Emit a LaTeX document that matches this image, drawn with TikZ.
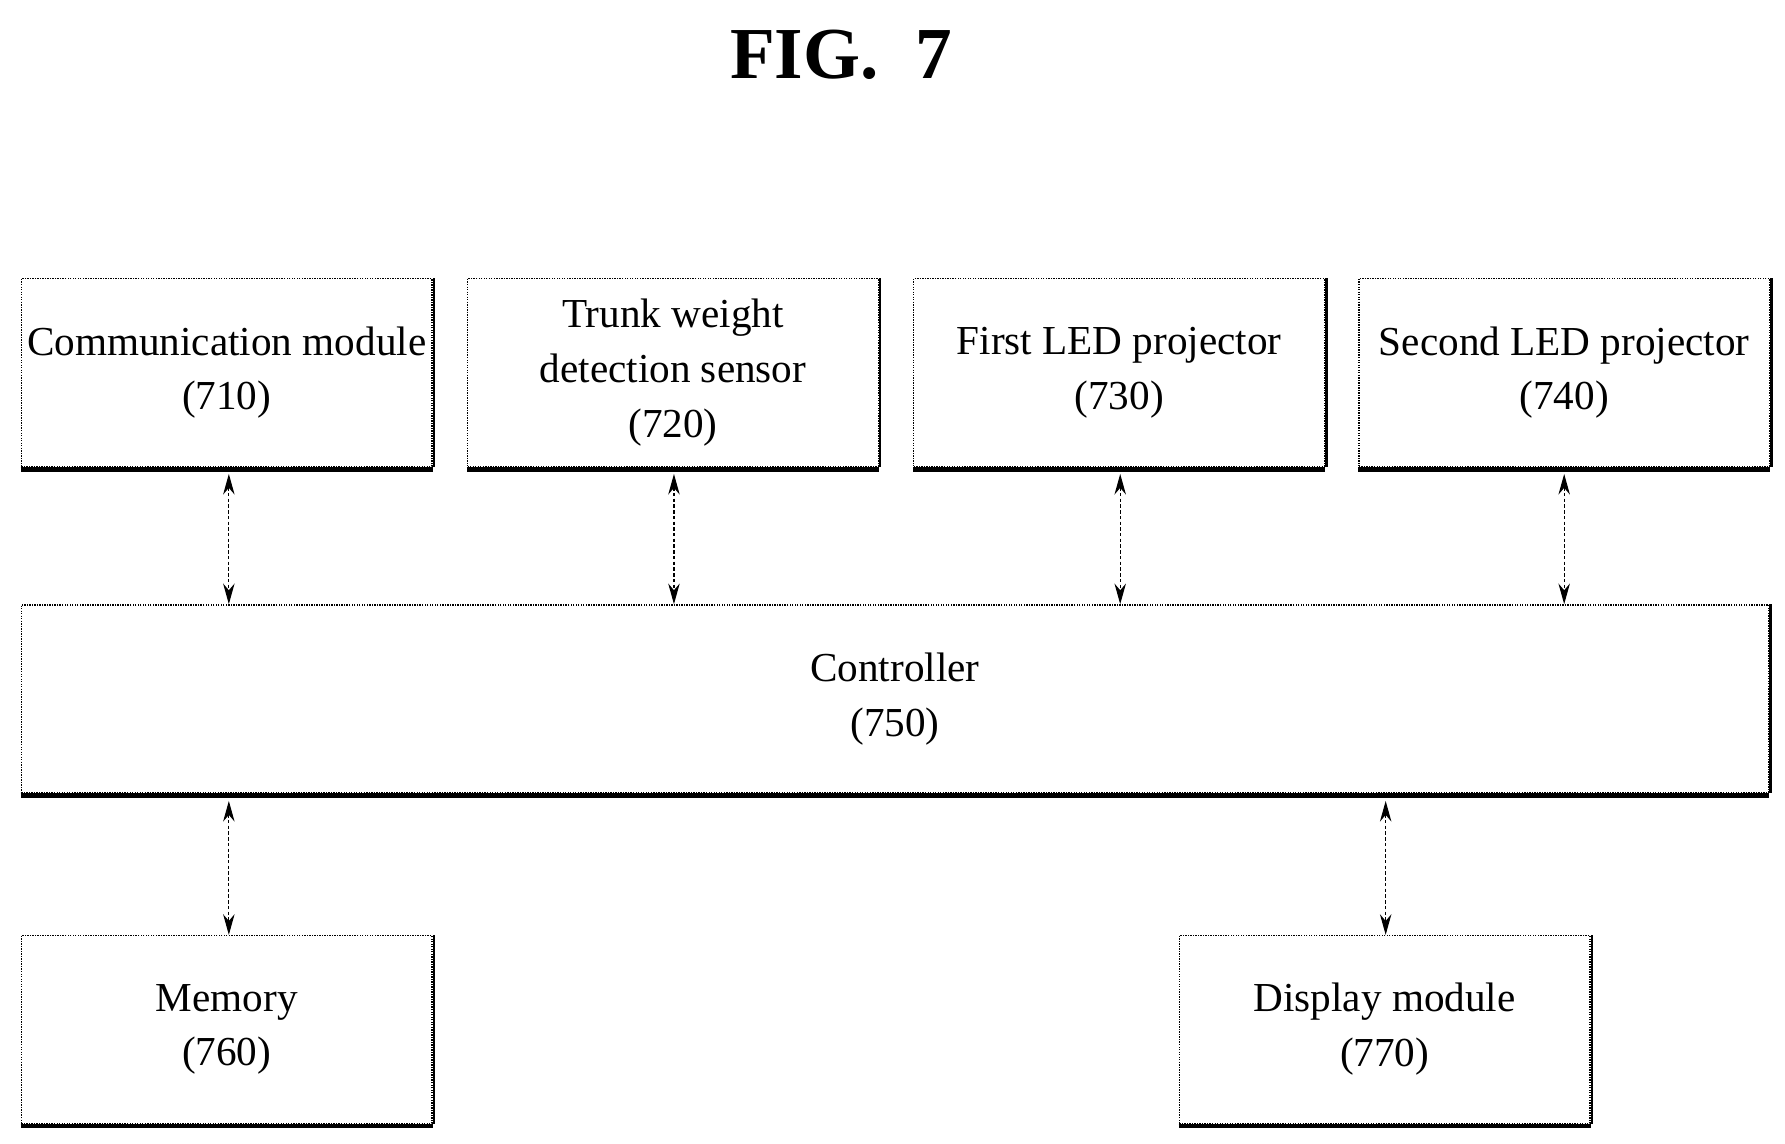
\documentclass[tikz,border=0pt]{standalone}
\usepackage{fontspec}
\setmainfont{Liberation Serif}
\usetikzlibrary{arrows.meta}
\begin{document}
\begin{tikzpicture}[x=1pt,y=-1pt,
  box/.style={draw, line width=1.2pt, densely dotted, minimum width=359pt, minimum height=164pt, anchor=north west, inner sep=0pt, align=center, font=\fontsize{36}{48}\selectfont},
  lnk/.style={line width=1pt, densely dashed, {Stealth[length=18pt,width=10pt]}-{Stealth[length=18pt,width=10pt]}}]
\useasboundingbox (0,0) rectangle (1560,999);
\node at (735,48) {\fontsize{64}{64}\selectfont\bfseries FIG.~~7};
\node[box] (a) at (18,243) {Communication module\\(710)};
\node[box] (b) at (408,243) {Trunk weight\\detection sensor\\(720)};
\node[box] (c) at (798,243) {First LED projector\\(730)};
\node[box] (d) at (1187,243) {Second LED projector\\(740)};
\node[box, minimum width=1527pt] (e) at (18,528) {Controller\\(750)};
\node[box] (f) at (18,817) {Memory\\(760)};
\node[box] (g) at (1030,817) {Display module\\(770)};
\foreach \n in {a,b,c,d,e,f,g}{
  \draw[line width=4pt] ([yshift=-2pt]\n.south west) -- ([yshift=-2pt]\n.south east);
  \draw[line width=2pt] ([xshift=1pt]\n.north east) -- ([xshift=1pt]\n.south east);}
\coordinate (ea) at (200,528); \coordinate (eb) at (589,528);
\coordinate (ec) at (979,528); \coordinate (ed) at (1367,528);
\coordinate (ef) at (200,700); \coordinate (eg) at (1211,700);
\draw[lnk] (a.south -| ea) ++(0,6) -- (ea);
\draw[lnk] (b.south -| eb) ++(0,6) -- (eb);
\draw[lnk] (c.south -| ec) ++(0,6) -- (ec);
\draw[lnk] (d.south -| ed) ++(0,6) -- (ed);
\draw[lnk] (ef) -- (f.north -| ef);
\draw[lnk] (eg) -- (g.north -| eg);
\end{tikzpicture}
\end{document}
